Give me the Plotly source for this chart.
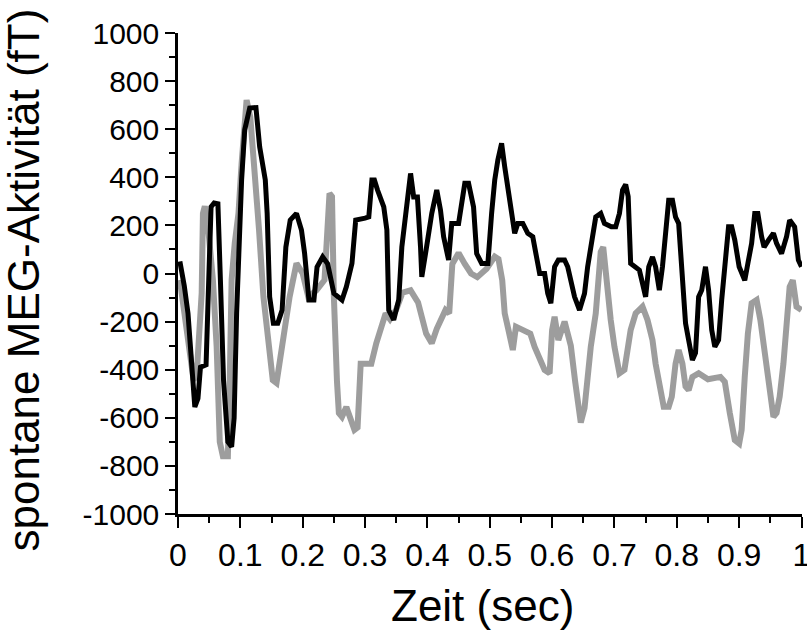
import plotly.graph_objects as go

# ---- data ----
t_black = [0.003, 0.010, 0.016, 0.022, 0.027, 0.032, 0.036, 0.045, 0.050, 0.053, 0.058, 0.064, 0.068, 0.073,
           0.080, 0.086, 0.090, 0.094, 0.102, 0.107, 0.115, 0.125, 0.131, 0.140, 0.143, 0.147, 0.153, 0.160,
           0.167, 0.173, 0.180, 0.190, 0.198, 0.203, 0.210, 0.218, 0.223, 0.232, 0.240, 0.250, 0.263, 0.270,
           0.279, 0.285, 0.300, 0.306, 0.311, 0.315, 0.320, 0.330, 0.335, 0.338, 0.346, 0.354, 0.359, 0.367,
           0.373, 0.378, 0.384, 0.389, 0.391, 0.397, 0.407, 0.415, 0.421, 0.426, 0.434, 0.439, 0.450, 0.460,
           0.466, 0.474, 0.479, 0.487, 0.497, 0.503, 0.508, 0.513, 0.519, 0.524, 0.530, 0.535, 0.540, 0.545,
           0.553, 0.561, 0.569, 0.575, 0.580, 0.588, 0.593, 0.598, 0.604, 0.610, 0.620, 0.625, 0.630, 0.636,
           0.644, 0.652, 0.657, 0.665, 0.670, 0.678, 0.684, 0.695, 0.702, 0.708, 0.713, 0.718, 0.722, 0.726,
           0.734, 0.740, 0.745, 0.750, 0.755, 0.761, 0.766, 0.772, 0.777, 0.782, 0.787, 0.793, 0.798, 0.803,
           0.806, 0.811, 0.814, 0.819, 0.825, 0.830, 0.835, 0.840, 0.846, 0.851, 0.856, 0.861, 0.867, 0.872,
           0.877, 0.883, 0.888, 0.893, 0.900, 0.904, 0.909, 0.914, 0.920, 0.925, 0.930, 0.936, 0.940, 0.947,
           0.955, 0.960, 0.968, 0.976, 0.981, 0.989, 0.995, 1.000]
v_black = [50, -50, -165, -400, -555, -520, -390, -380, 0, 277, 293, 290, -27, -443,
           -700, -720, -600, -165, 389, 597, 688, 690, 526, 389, 250, -97, -207, -207,
           -152, 110, 222, 250, 181, 85, -110, -110, 27, 69, 40, -83, -110, -55,
           42, 222, 230, 235, 389, 389, 347, 277, 181, -152, -193, -110, 110, 277,
           416, 318, 318, 110, -14, 83, 250, 347, 264, 153, 56, 208, 208, 375,
           375, 277, 83, 42, 42, 250, 389, 472, 541, 444, 347, 250, 167, 208,
           208, 167, 153, 69, 0, 0, -83, -124, 28, 56, 56, 28, -28, -97,
           -152, -83, 28, 139, 235, 250, 208, 194, 194, 250, 347, 370, 320, 42,
           28, 14, -41, -97, 28, 69, 28, -69, 28, 194, 305, 305, 235, 208,
           110, -69, -207, -277, -360, -330, -97, -69, 28, -69, -235, -305, -277, -110,
           28, 194, 194, 139, 28, 0, -28, 42, 125, 250, 250, 153, 110, 139,
           167, 125, 83, 153, 222, 194, 56, 28]

t_gray = [0.003, 0.010, 0.018, 0.025, 0.030, 0.035, 0.038, 0.040, 0.043, 0.048, 0.056, 0.062, 0.067, 0.072,
          0.080, 0.083, 0.086, 0.091, 0.097, 0.102, 0.110, 0.116, 0.123, 0.130, 0.137, 0.145, 0.152, 0.158,
          0.167, 0.179, 0.190, 0.200, 0.209, 0.222, 0.235, 0.240, 0.243, 0.247, 0.250, 0.255, 0.258, 0.263,
          0.270, 0.283, 0.288, 0.293, 0.310, 0.318, 0.325, 0.333, 0.340, 0.350, 0.360, 0.373, 0.385, 0.398,
          0.407, 0.415, 0.429, 0.435, 0.440, 0.450, 0.460, 0.470, 0.480, 0.495, 0.508, 0.514, 0.520, 0.524,
          0.530, 0.537, 0.542, 0.556, 0.565, 0.572, 0.580, 0.588, 0.596, 0.600, 0.604, 0.610, 0.620, 0.630,
          0.637, 0.646, 0.652, 0.662, 0.670, 0.678, 0.682, 0.688, 0.694, 0.700, 0.708, 0.716, 0.726, 0.734,
          0.745, 0.753, 0.761, 0.766, 0.772, 0.779, 0.787, 0.792, 0.798, 0.803, 0.809, 0.814, 0.819, 0.825,
          0.835, 0.850, 0.870, 0.877, 0.885, 0.893, 0.900, 0.904, 0.909, 0.914, 0.920, 0.928, 0.934, 0.940,
          0.944, 0.950, 0.955, 0.960, 0.965, 0.971, 0.976, 0.981, 0.986, 0.992, 1.000]
v_gray = [-27, -165, -305, -443, -420, -165, -81, 250, 280, 200, -27, -305, -700, -760,
          -760, -443, -27, 126, 250, 458, 721, 650, 430, 180, -97, -305, -443, -455,
          -305, -97, 42, 0, -97, -70, -27, 250, 333, 320, -97, -450, -580, -596,
          -555, -650, -640, -375, -375, -290, -221, -166, -190, -150, -80, -70, -120, -250,
          -290, -230, -152, -166, 40, 85, 40, 0, -15, 20, 70, 60, -28, -166,
          -235, -318, -221, -235, -250, -305, -360, -401, -415, -235, -180, -277, -200, -300,
          -450, -620, -560, -305, -166, 90, 110, -55, -193, -305, -415, -400, -235, -166,
          -138, -193, -277, -375, -471, -554, -554, -512, -375, -318, -375, -470, -485, -430,
          -415, -440, -430, -450, -580, -693, -707, -650, -430, -250, -124, -110, -193, -305,
          -400, -512, -596, -580, -512, -375, -166, -55, -28, -138, -152]

x_tick_vals = [0, 0.1, 0.2, 0.3, 0.4, 0.5, 0.6, 0.7, 0.8, 0.9, 1.0]
x_tick_text = ["0", "0.1", "0.2", "0.3", "0.4", "0.5", "0.6", "0.7", "0.8", "0.9", "1"]
y_tick_vals = [1000, 800, 600, 400, 200, 0, -200, -400, -600, -800, -1000]
y_tick_text = ["1000", "800", "600", "400", "200", "0", "-200", "-400", "-600", "-800", "-1000"]
x_title = "Zeit (sec)"
y_title = "spontane MEG-Aktivität (fT)"

fig = go.Figure()
fig.add_trace(go.Scatter(x=t_gray, y=v_gray, mode="lines",
                         line=dict(color="rgba(140,140,140,0.85)", width=6), hoverinfo="skip"))
fig.add_trace(go.Scatter(x=t_black, y=v_black, mode="lines",
                         line=dict(color="black", width=5), hoverinfo="skip"))

fig.update_layout(
    width=807, height=641,
    margin=dict(l=178, r=5, t=33, b=127),
    plot_bgcolor="white", paper_bgcolor="white",
    showlegend=False,
    font=dict(family="Liberation Sans, Arial, sans-serif", color="black"),
)
fig.update_xaxes(
    range=[0, 1.0008], tickvals=x_tick_vals, ticktext=x_tick_text,
    ticks="outside", ticklen=11, tickwidth=2, tickcolor="black",
    minor=dict(ticks="outside", dtick=0.05, tick0=0, ticklen=6, tickwidth=2, tickcolor="black"),
    showline=True, linewidth=2.5, linecolor="black", showgrid=False, zeroline=False,
    tickfont=dict(size=32), automargin=False, ticklabeloverflow="allow",
)
fig.update_yaxes(
    range=[-1000, 1000], tickvals=y_tick_vals, ticktext=y_tick_text,
    ticks="outside", ticklen=10, tickwidth=2, tickcolor="black",
    minor=dict(ticks="outside", dtick=100, tick0=0, ticklen=6, tickwidth=2, tickcolor="black"),
    showline=True, linewidth=2.5, linecolor="black", showgrid=False, zeroline=False,
    tickfont=dict(size=30), automargin=False, ticklabeloverflow="allow",
)
# axis titles as paper-anchored annotations
fig.add_annotation(text=x_title, xref="paper", yref="paper", x=0.488, y=-0.19,
                   xanchor="center", yanchor="middle", showarrow=False, font=dict(size=44))
fig.add_annotation(text=y_title, xref="paper", yref="paper", x=-0.2476, y=0.4865,
                   xanchor="center", yanchor="middle", textangle=-90, showarrow=False,
                   font=dict(size=44))

# remove the browser's default 8px body margin so the figure sits at the page origin
fig.write_html("out.html", config={"displayModeBar": False},
               post_script="document.body.style.margin='0';")
